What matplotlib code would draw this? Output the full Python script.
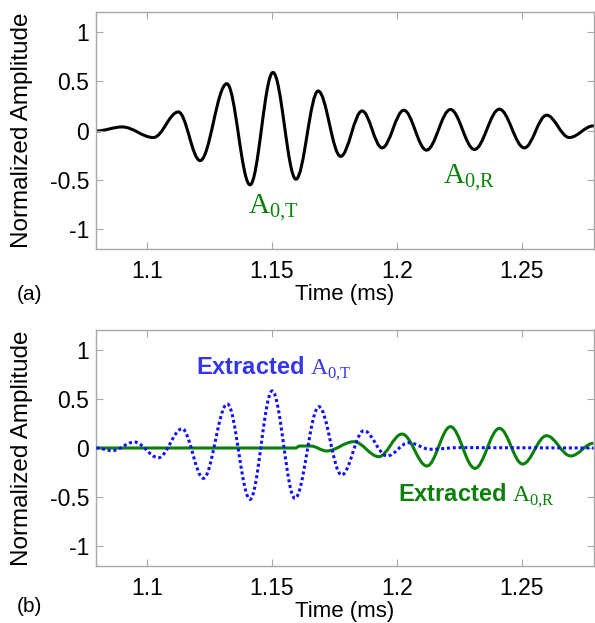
import numpy as np
import matplotlib
matplotlib.use("Agg")
import matplotlib.pyplot as plt
from matplotlib.path import Path
from matplotlib.patches import PathPatch

plt.rcParams['font.family'] = ['Liberation Sans', 'DejaVu Sans']
plt.rcParams['mathtext.fontset'] = 'custom'
plt.rcParams['mathtext.rm'] = 'Liberation Serif'

# (a) measured signal: turning points (time in ms, normalized amplitude)
meas_t = [1.0796, 1.0900, 1.1025, 1.1125, 1.1212, 1.1319, 1.1412, 1.1504,
          1.1596, 1.1685, 1.1775, 1.1861, 1.1941, 1.2028, 1.2119, 1.2215,
          1.2311, 1.2411, 1.2511, 1.2600, 1.2691, 1.2788]
meas_a = [-0.005, 0.036, -0.071, 0.188, -0.305, 0.474, -0.550, 0.588,
          -0.493, 0.400, -0.262, 0.198, -0.176, 0.205, -0.199, 0.213,
          -0.192, 0.216, -0.176, 0.155, -0.071, 0.047]

# (b) extracted A0,T (blue dotted)
a0t_t = [1.0796, 1.0860, 1.0949, 1.1045, 1.1140, 1.1225, 1.1321, 1.1412,
         1.1501, 1.1592, 1.1688, 1.1779, 1.1868, 1.1961, 1.2048, 1.2134,
         1.2250, 1.2788]
a0t_a = [0.0, -0.027, 0.061, -0.099, 0.196, -0.308, 0.448, -0.522,
         0.580, -0.512, 0.420, -0.275, 0.176, -0.081, 0.054, -0.013,
         0.004, 0.0]

# (b) extracted A0,R (green solid)
a0r_t = [1.0796, 1.1595, 1.1610, 1.1655, 1.1719, 1.1828, 1.1928, 1.2021,
         1.2121, 1.2215, 1.2313, 1.2411, 1.2504, 1.2600, 1.2697, 1.2788]
a0r_a = [0.0, 0.0, 0.020, 0.020, -0.030, 0.064, -0.088, 0.142,
         -0.183, 0.217, -0.207, 0.200, -0.163, 0.125, -0.081, 0.048]

xticks = [1.1, 1.15, 1.2, 1.25]
xticklabels = ['1.1', '1.15', '1.2', '1.25']
yticks = [-1, -0.5, 0, 0.5, 1]
yticklabels = ['-1', '-0.5', '0', '0.5', '1']

GREEN = '#0a800a'
BLUE = '#1010ff'
GRAY = '#a8a8a8'


def wave_path(t, a):
    # smooth curve through turning points (flat tangent at each point)
    verts = [(t[0], a[0])]
    codes = [Path.MOVETO]
    for i in range(len(t) - 1):
        d = (t[i + 1] - t[i]) * 0.36
        verts += [(t[i] + d, a[i]), (t[i + 1] - d, a[i + 1]), (t[i + 1], a[i + 1])]
        codes += [Path.CURVE4] * 3
    return Path(verts, codes)


def style_axes(ax):
    ax.set_xlim(1.0795, 1.279)
    ax.set_ylim(-1.2, 1.2)
    ax.set_xticks(xticks)
    ax.set_xticklabels(xticklabels)
    ax.set_yticks(yticks)
    ax.set_yticklabels(yticklabels)
    for s in ax.spines.values():
        s.set_color(GRAY)
        s.set_linewidth(1.0)
    ax.tick_params(axis='both', direction='in', length=5, color=GRAY,
                   labelsize=16.5, top=True, right=True)
    ax.tick_params(axis='x', pad=8)
    ax.tick_params(axis='y', pad=5)
    ax.set_xlabel('Time (ms)', fontsize=16)
    ax.xaxis.set_label_coords(0.5, -0.147)
    ax.set_ylabel('Normalized Amplitude', fontsize=17.5)
    ax.yaxis.set_label_coords(-0.127, 0.5)


fig = plt.figure(figsize=(5.95, 6.23), dpi=100)
ax1 = fig.add_axes([96 / 595, 1 - 249 / 623, 498 / 595, 237 / 623])
ax2 = fig.add_axes([96 / 595, 1 - 566 / 623, 498 / 595, 236 / 623])

# panel (a)
ax1.add_patch(PathPatch(wave_path(meas_t, meas_a), fill=False, edgecolor='black',
                        linewidth=2.2, capstyle='round', joinstyle='round'))
ax1.text(1.1504, -0.79, r'$\mathrm{A}_{\mathrm{0{,}T}}$', color=GREEN,
         fontsize=21, ha='center', va='center')
ax1.text(1.2288, -0.48, r'$\mathrm{A}_{\mathrm{0{,}R}}$', color=GREEN,
         fontsize=21, ha='center', va='center')
style_axes(ax1)

# panel (b)
ax2.add_patch(PathPatch(wave_path(a0r_t, a0r_a), fill=False, edgecolor=GREEN,
                        linewidth=2.2, zorder=2))
ax2.add_patch(PathPatch(wave_path(a0t_t, a0t_a), fill=False, edgecolor=BLUE,
                        linewidth=2.2, linestyle=(0, (1, 0.9)), zorder=3))
ax2.text(1.1506, 0.80, r'Extracted $\mathrm{A}_{\mathrm{0{,}T}}$', color='#3535f0',
         fontsize=17, fontweight='bold', ha='center', va='center')
ax2.text(1.2320, -0.49, r'Extracted $\mathrm{A}_{\mathrm{0{,}R}}$', color=GREEN,
         fontsize=17, fontweight='bold', ha='center', va='center')
style_axes(ax2)

fig.text(17 / 595, 1 - 295 / 623, '(a)', fontsize=15, va='center')
fig.text(17 / 595, 1 - 607 / 623, '(b)', fontsize=15, va='center')

fig.savefig('out.png', dpi=100)
